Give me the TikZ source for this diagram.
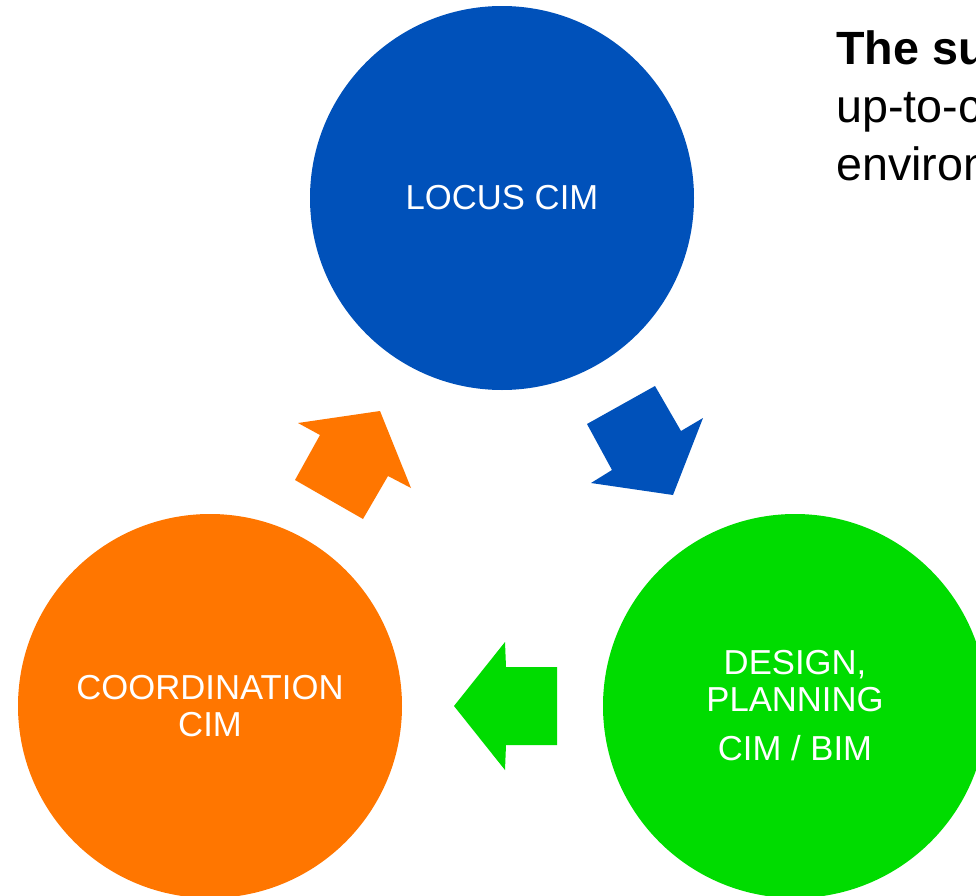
\documentclass[tikz,border=0pt]{standalone}
\usepackage{fontspec}
\setmainfont{Liberation Sans}

\definecolor{locusblue}{RGB}{0,81,186}
\definecolor{coordorange}{RGB}{255,118,0}
\definecolor{designgreen}{RGB}{0,220,0}

\tikzset{
  stage/.style={circle, minimum size=288pt, inner sep=0pt, text=white,
    align=center, font=\fontsize{26}{27.75}\selectfont},
  heading/.style={anchor=base west, inner sep=0pt,
    font=\fontsize{35}{42}\selectfont},
}

\begin{document}
\begin{tikzpicture}[x=0.75pt,y=-0.75pt]
    % page frame, everything outside is cut away
    \clip (0,0) rectangle (976,896);
    \fill[white] (0,0) rectangle (976,896);

    % the three stages
    \node[stage, fill=locusblue] (locus) at (502,198) {LOCUS CIM};
    \node[stage, fill=coordorange] (coord) at (210,706) {COORDINATION\\CIM};
    \node[stage, fill=designgreen] (design) at (795,706)
        {DESIGN,\\PLANNING\\[9pt]CIM / BIM};

    % block arrows going round
    \fill[locusblue] (587,424) -- (655,386) -- (681,431) -- (703,418)
        -- (673,495) -- (591,483) -- (612,470) -- cycle;
    \fill[designgreen] (454,706) -- (505,642) -- (506,667) -- (557,667)
        -- (557,745) -- (506,745) -- (505,770) -- cycle;
    \fill[coordorange] (380,411) -- (411,488) -- (388,476) -- (363,519)
        -- (295,480) -- (320,435) -- (298,423) -- cycle;

    % text on the right
    \node[heading] (line1) at (836,64) {\textbf{The su}};
    \node[heading] (line2) at (836,122) {up-to-c};
    \node[heading] (line3) at (836,180) {environ};
\end{tikzpicture}
\end{document}
